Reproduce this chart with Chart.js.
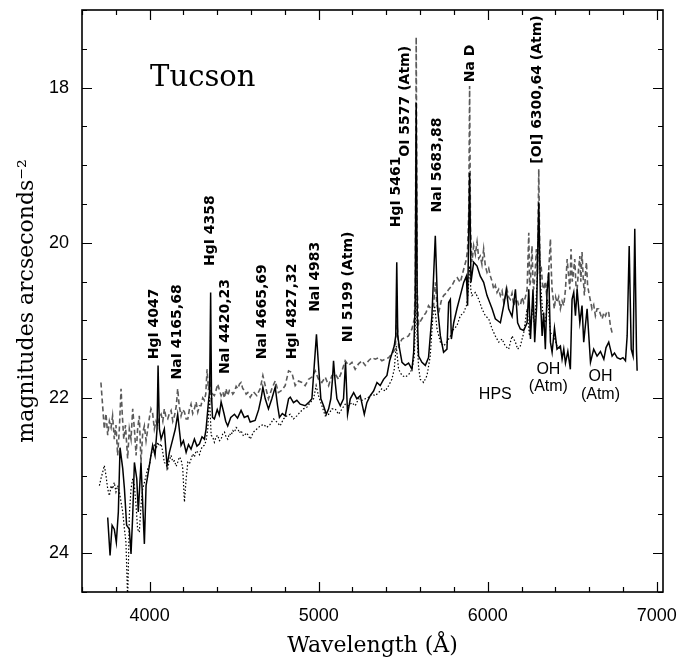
<!DOCTYPE html>
<html>
<head>
<meta charset="utf-8">
<script src="https://cdn.jsdelivr.net/npm/chart.js@4"></script>
<style>html,body{margin:0;padding:0;background:#fff;}canvas{display:block;}</style>
</head>
<body>
<canvas id="c" width="695" height="663"></canvas>
<script>
// ---- data (wavelength in Å, surface brightness in mag/arcsec^2) ----
const solidWave = [3752,3766,3778,3791,3803,3815,3825,3841,3851,3864,3880,3890,3900,3910,3924,3933,3949,3969,3979,3989,4008,4018,4032,4044,4050,4058,4068,4087,4103,4117,4137,4152,4166,4186,4200,4216,4230,4245,4265,4280,4295,4310,4324,4334,4346,4355,4361,4366,4372,4383,4400,4412,4423,4440,4450,4462,4480,4502,4520,4541,4560,4581,4595,4624,4645,4660,4670,4684,4703,4723,4743,4757,4768,4785,4802,4822,4832,4851,4871,4891,4920,4940,4960,4974,4987,4999,5013,5029,5045,5059,5072,5082,5088,5098,5108,5128,5147,5159,5171,5187,5207,5226,5246,5270,5285,5305,5325,5345,5364,5384,5404,5420,5433,5447,5456,5462,5468,5479,5493,5512,5532,5552,5562,5571,5577,5583,5591,5611,5631,5650,5670,5690,5704,5720,5739,5759,5769,5779,5785,5799,5818,5838,5858,5874,5881,5893,5901,5917,5937,5956,5976,5996,6026,6045,6075,6098,6110,6124,6144,6164,6177,6193,6213,6233,6243,6253,6268,6278,6290,6302,6312,6322,6331,6341,6351,6361,6371,6381,6395,6410,6430,6440,6450,6460,6474,6489,6499,6509,6519,6529,6545,6558,6568,6588,6608,6627,6647,6667,6687,6700,6716,6736,6750,6766,6785,6800,6815,6825,6837,6849,6860,6870,6880,6884];
const solidMag = [23.54,24.03,23.64,23.69,23.86,23.47,22.64,22.91,23.17,23.64,23.69,24.01,23.51,22.83,23.04,23.47,22.83,23.88,23.13,23.00,22.74,22.61,22.74,22.40,21.58,22.40,22.53,22.40,22.87,22.70,22.53,22.40,22.21,22.61,22.55,22.70,22.60,22.66,22.53,22.62,22.59,22.50,22.53,22.40,22.10,21.90,20.64,21.95,22.25,22.27,22.15,22.22,22.05,22.20,22.30,22.36,22.25,22.21,22.26,22.16,22.25,22.23,22.31,22.29,22.15,22.00,21.86,22.01,22.14,22.01,21.86,22.10,22.25,22.20,22.23,22.01,21.99,22.06,22.03,22.08,22.10,22.06,22.01,21.58,21.18,21.58,22.01,22.10,22.21,22.14,22.01,21.75,21.52,21.80,22.01,22.10,22.01,21.54,22.21,22.01,21.93,22.01,21.97,22.21,22.06,21.97,21.91,21.80,21.84,21.76,21.71,21.52,21.43,21.33,21.20,20.25,21.20,21.37,21.54,21.58,21.55,21.63,21.41,20.80,18.20,20.90,21.46,21.54,21.58,21.48,20.94,19.91,20.85,21.20,21.41,21.37,20.77,20.73,21.24,21.03,20.85,20.68,20.51,20.43,20.81,19.10,20.51,20.25,20.30,20.43,20.51,20.68,20.85,20.98,21.03,20.77,20.60,20.85,20.95,20.60,21.03,21.11,21.13,21.03,20.60,21.24,20.60,21.28,20.80,19.48,20.73,21.20,20.90,21.37,20.64,20.38,21.28,21.41,21.10,21.37,21.33,21.50,21.37,21.55,21.40,21.63,20.73,20.64,20.94,20.60,21.03,20.81,21.28,20.85,21.54,21.37,21.46,21.40,21.50,21.35,21.28,21.46,21.42,21.48,21.50,21.48,21.52,21.20,20.04,21.37,21.46,19.82,21.37,21.65];

const dashWave = [3712,3722,3732,3742,3752,3762,3772,3781,3791,3801,3811,3821,3831,3838,3847,3857,3870,3880,3890,3900,3910,3920,3929,3939,3949,3959,3969,3979,3989,3999,4008,4018,4028,4038,4048,4058,4068,4078,4087,4097,4107,4117,4127,4137,4147,4158,4166,4175,4186,4196,4206,4216,4226,4235,4245,4255,4265,4275,4285,4295,4304,4314,4324,4332,4340,4348,4356,4364,4373,4383,4393,4403,4413,4423,4433,4443,4452,4462,4472,4482,4492,4502,4512,4522,4532,4541,4551,4561,4571,4581,4595,4614,4634,4654,4670,4684,4703,4723,4743,4762,4782,4802,4822,4841,4861,4881,4901,4920,4940,4960,4980,4999,5019,5039,5059,5078,5098,5118,5138,5157,5177,5197,5216,5236,5256,5276,5295,5315,5335,5355,5374,5394,5414,5433,5453,5462,5473,5493,5512,5532,5552,5566,5572,5577,5583,5591,5605,5621,5635,5650,5665,5680,5690,5700,5710,5725,5739,5754,5769,5789,5805,5820,5838,5858,5874,5881,5888,5893,5898,5907,5917,5927,5937,5947,5956,5966,5976,5986,5996,6006,6016,6026,6036,6045,6055,6065,6075,6085,6095,6104,6114,6124,6134,6144,6154,6164,6174,6183,6193,6203,6213,6223,6233,6243,6248,6253,6262,6268,6272,6280,6288,6295,6302,6309,6316,6325,6331,6341,6347,6358,6365,6371,6377,6381,6394,6402,6410,6420,6430,6440,6450,6460,6470,6479,6486,6493,6500,6505,6515,6522,6529,6537,6545,6551,6558,6565,6572,6578,6584,6591,6598,6608,6617,6627,6637,6647,6657,6667,6677,6687,6697,6706,6716,6726,6736];
const dashMag = [21.80,22.10,22.40,22.20,22.48,22.30,22.38,22.23,22.53,22.35,22.74,22.40,21.88,22.20,22.53,22.35,22.78,22.40,22.53,22.14,22.40,22.74,22.40,22.23,22.83,22.45,22.36,22.55,22.40,22.25,22.14,22.20,22.40,22.30,22.36,22.25,22.21,22.30,22.14,22.25,22.27,22.20,22.16,22.30,22.23,22.10,21.88,22.10,22.23,22.15,22.18,22.27,22.27,22.15,22.08,22.20,22.14,22.05,22.18,22.10,22.10,22.00,22.03,21.95,21.63,21.90,21.75,22.03,21.95,21.97,21.90,21.82,21.90,21.97,21.92,22.00,21.88,21.97,21.90,21.90,21.95,21.92,21.85,21.88,21.82,21.80,21.88,21.90,21.95,21.93,21.99,21.92,21.97,21.88,21.71,21.84,22.01,21.88,21.78,21.93,21.90,21.84,21.65,21.67,21.84,21.78,21.80,21.84,21.76,21.73,21.65,21.76,21.80,21.73,21.84,21.71,21.69,21.76,21.65,21.52,21.58,21.54,21.63,21.56,21.52,21.58,21.52,21.48,21.50,21.48,21.52,21.50,21.48,21.43,21.37,21.00,21.33,21.24,21.22,21.20,21.11,20.98,20.50,17.35,20.60,21.05,21.00,20.94,20.90,20.81,20.85,20.81,20.51,20.80,20.90,20.75,20.68,20.65,20.60,20.55,20.48,20.45,20.51,20.34,20.21,20.08,19.60,17.98,19.80,20.25,20.04,20.15,19.99,20.20,20.17,20.28,20.08,20.30,20.38,20.33,20.43,20.50,20.60,20.55,20.64,20.60,20.68,20.62,20.77,20.70,20.60,20.70,20.73,20.65,20.81,20.74,20.73,20.80,20.81,20.70,20.77,20.70,20.60,19.87,20.55,20.51,20.04,20.50,20.60,20.40,20.08,20.40,19.05,20.30,20.30,20.55,20.60,20.50,20.64,20.45,20.20,19.95,20.40,20.60,20.85,20.70,20.77,20.70,20.85,20.75,20.81,20.60,20.21,20.43,20.60,20.08,20.50,20.43,20.21,20.55,20.60,20.35,20.17,20.50,20.12,20.45,20.68,20.40,20.25,20.55,20.64,20.75,20.85,20.80,20.94,20.85,20.85,20.92,20.98,20.90,20.94,20.88,20.90,21.07,21.16];

const dotWave = [3703,3712,3722,3732,3742,3752,3762,3772,3781,3791,3801,3811,3821,3831,3841,3851,3860,3866,3870,3876,3880,3890,3900,3910,3920,3929,3939,3949,3959,3969,3979,3989,3999,4008,4018,4028,4038,4048,4058,4068,4078,4087,4097,4107,4117,4127,4137,4147,4157,4166,4176,4186,4196,4206,4216,4226,4235,4245,4255,4265,4275,4285,4295,4304,4314,4324,4334,4344,4354,4364,4373,4383,4393,4403,4413,4423,4433,4443,4452,4462,4472,4482,4492,4502,4512,4522,4532,4541,4555,4575,4595,4614,4634,4654,4674,4693,4713,4733,4753,4772,4792,4812,4832,4851,4871,4891,4910,4930,4950,4970,4985,4999,5019,5039,5059,5078,5098,5118,5138,5157,5177,5197,5216,5236,5256,5276,5295,5315,5335,5355,5374,5394,5414,5433,5447,5459,5473,5493,5512,5532,5552,5566,5572,5577,5582,5591,5601,5621,5641,5660,5676,5686,5700,5720,5739,5759,5779,5799,5818,5838,5858,5874,5883,5893,5900,5907,5927,5947,5966,5986,6006,6026,6045,6065,6085,6104,6124,6144,6164,6177,6193,6213,6233,6247,6262,6278,6292,6302,6312,6327,6341,6355,6371,6391,6410,6430];
const dotMag = [23.13,23.04,22.96,22.87,23.00,23.17,23.26,23.13,23.17,23.09,23.21,23.13,23.21,23.34,23.47,23.69,23.86,24.30,24.60,24.00,23.50,23.17,23.04,23.13,23.39,23.69,23.73,23.39,23.17,23.09,23.00,22.91,22.87,22.74,22.66,22.61,22.66,22.57,22.62,22.59,22.70,22.83,22.85,22.91,22.80,22.74,22.82,22.81,22.88,22.83,22.76,22.79,22.91,23.34,23.04,22.83,22.85,22.79,22.72,22.76,22.68,22.70,22.73,22.66,22.62,22.61,22.55,22.40,21.97,22.48,22.50,22.57,22.50,22.48,22.55,22.53,22.46,22.44,22.50,22.53,22.46,22.48,22.42,22.44,22.38,22.40,22.45,22.42,22.49,22.45,22.53,22.44,22.40,22.36,22.34,22.38,22.34,22.27,22.31,22.36,22.27,22.23,22.21,22.27,22.23,22.18,22.14,22.12,22.06,22.01,21.84,21.97,22.10,22.23,22.21,22.14,22.14,22.21,22.14,22.08,22.10,22.06,22.10,22.01,22.03,22.01,21.99,21.95,21.97,21.93,21.88,21.91,21.84,21.76,21.63,21.33,21.63,21.71,21.73,21.70,21.63,21.46,21.00,18.60,21.20,21.60,21.76,21.80,21.71,21.46,20.94,20.81,21.11,21.28,21.33,21.28,21.20,21.11,21.07,20.94,20.90,20.81,20.68,20.30,20.60,20.68,20.64,20.73,20.85,20.94,20.98,21.11,21.20,21.28,21.24,21.33,21.37,21.20,21.28,21.37,21.33,21.16,20.85,21.20,20.85,21.07,20.51,19.65,20.51,20.94,21.03,20.73,21.16,21.20,21.33,21.37];

const xTickValues = [4000, 5000, 6000, 7000];
const yTickValues = [18, 20, 22, 24];
const xMinorStep = 200;
const yMinorStep = 0.5;

// line identifications: text, anchor wavelength, anchor magnitude (bottom end of vertical text)
const lineLabels = [
  ['HgI 4047', 4026, 21.50],
  ['NaI 4165,68', 4162, 21.76],
  ['HgI 4358', 4358, 20.30],
  ['NaI 4420,23', 4447, 21.69],
  ['NaI 4665,69', 4666, 21.50],
  ['HgI 4827,32', 4843, 21.50],
  ['NaI 4983', 4980, 20.89],
  ['NI 5199 (Atm)', 5175, 21.28],
  ['HgI 5461', 5459, 19.80],
  ['OI 5577 (Atm)', 5512, 18.89],
  ['NaI 5683,88', 5702, 19.61],
  ['Na D', 5897, 17.93],
  ['[OI] 6300,64 (Atm)', 6294, 18.98]
];
// horizontal notes: text, wavelength (centre), magnitude (centre)
const noteLabels = [
  ['HPS', 6045, 21.95],
  ['OH', 6359, 21.63],
  ['(Atm)', 6359, 21.85],
  ['OH', 6667, 21.73],
  ['(Atm)', 6667, 21.96]
];
const siteName = ['Tucson', 4003, 17.88];

const pts = (w, m) => w.map((v, i) => ({x: v, y: m[i]}));

const decorPlugin = {
  id: 'decor',
  afterDatasetsDraw(chart) {
    const {ctx, chartArea: {left, right, top, bottom}, scales: {x, y}} = chart;
    ctx.save();
    ctx.strokeStyle = '#000';
    ctx.lineWidth = 1.6;
    ctx.strokeRect(left, top, right - left, bottom - top);
    ctx.lineWidth = 1.2;
    ctx.beginPath();
    for (let v = Math.ceil(x.min / xMinorStep) * xMinorStep; v <= x.max; v += xMinorStep) {
      const px = Math.round(x.getPixelForValue(v)) + 0.5;
      const len = xTickValues.includes(v) ? 10 : 5;
      ctx.moveTo(px, bottom); ctx.lineTo(px, bottom - len);
      ctx.moveTo(px, top); ctx.lineTo(px, top + len);
    }
    for (let v = Math.ceil(y.min / yMinorStep) * yMinorStep; v <= y.max + 1e-9; v += yMinorStep) {
      const py = Math.round(y.getPixelForValue(v)) + 0.5;
      const len = yTickValues.includes(v) ? 10 : 5;
      ctx.moveTo(left, py); ctx.lineTo(left + len, py);
      ctx.moveTo(right, py); ctx.lineTo(right - len, py);
    }
    ctx.stroke();

    ctx.fillStyle = '#000';
    ctx.font = 'bold 14px "DejaVu Sans"';
    ctx.textAlign = 'left';
    ctx.textBaseline = 'middle';
    for (const [t, w, m] of lineLabels) {
      ctx.save();
      ctx.translate(x.getPixelForValue(w), y.getPixelForValue(m));
      ctx.rotate(-Math.PI / 2);
      ctx.fillText(t, 0, 0);
      ctx.restore();
    }
    ctx.font = '16px "Liberation Sans"';
    ctx.textAlign = 'center';
    for (const [t, w, m] of noteLabels) {
      ctx.fillText(t, x.getPixelForValue(w), y.getPixelForValue(m));
    }
    ctx.font = '29px "DejaVu Serif"';
    ctx.textAlign = 'left';
    ctx.fillText(siteName[0], x.getPixelForValue(siteName[1]), y.getPixelForValue(siteName[2]));
    ctx.restore();
  }
};

new Chart(document.getElementById('c'), {
  type: 'line',
  data: {
    datasets: [
      {label: 'solid', data: pts(solidWave, solidMag), borderColor: '#000', borderWidth: 1.5, pointRadius: 0, tension: 0, fill: false},
      {label: 'dashed', data: pts(dashWave, dashMag), borderColor: '#5a5a5a', borderWidth: 1.6, borderDash: [5, 3], pointRadius: 0, tension: 0, fill: false},
      {label: 'dotted', data: pts(dotWave, dotMag), borderColor: '#000', borderWidth: 1.2, borderDash: [1.5, 2], pointRadius: 0, tension: 0, fill: false}
    ]
  },
  options: {
    responsive: false,
    animation: false,
    events: [],
    layout: {padding: {left: 0, right: 32, top: 10, bottom: 0}},
    plugins: {legend: {display: false}, tooltip: {enabled: false}},
    scales: {
      x: {
        type: 'linear', min: 3600, max: 7037,
        grid: {display: false, drawTicks: false}, border: {display: false},
        afterBuildTicks: s => { s.ticks = xTickValues.map(v => ({value: v})); },
        afterFit: s => { s.height = 71; s.paddingLeft = 0; s.paddingRight = 0; },
        ticks: {color: '#000', font: {family: 'Liberation Sans', size: 18}, padding: 13, maxRotation: 0, autoSkip: false, callback: v => String(v)},
        title: {display: true, text: 'Wavelength (Å)', color: '#000', font: {family: 'DejaVu Serif', size: 22}, padding: {top: 0, bottom: 4}}
      },
      y: {
        type: 'linear', reverse: true, min: 17, max: 24.5,
        grid: {display: false, drawTicks: false}, border: {display: false},
        afterBuildTicks: s => { s.ticks = yTickValues.map(v => ({value: v})); },
        afterFit: s => { s.width = 82; s.paddingTop = 0; s.paddingBottom = 0; },
        ticks: {color: '#000', font: {family: 'Liberation Sans', size: 18}, padding: 13, autoSkip: false, callback: v => String(v)},
        title: {display: true, text: 'magnitudes arcseconds⁻²', color: '#000', font: {family: 'DejaVu Serif', size: 22}, padding: {top: 14, bottom: 0}}
      }
    }
  },
  plugins: [decorPlugin]
});
</script>
</body>
</html>
